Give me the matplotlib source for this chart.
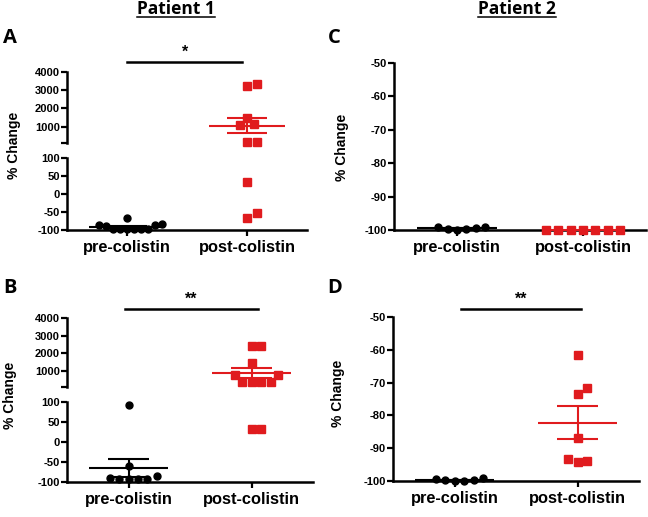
import numpy as np
import matplotlib.pyplot as plt
import matplotlib.transforms as mtransforms
from matplotlib.lines import Line2D

plt.rcParams['font.family'] = ['Liberation Sans', 'DejaVu Sans']
plt.rcParams['font.weight'] = 'bold'
plt.rcParams['axes.unicode_minus'] = False

categories = ['pre-colistin', 'post-colistin']

# Patient 1, panel A
a_pre = [-67, -96, -97, -97, -98, -98, -97, -90, -85, -85, -82]
a_post = [3230, 3350, 1480, 1120, 1100, 160, 160, 33, -67, -53]
a_mean = [-91, 1050]
a_sem = [2.5, 420]

# Patient 1, panel B
b_pre = [-92, -92, -93, -92, -91, -85, -61, 93]
b_post = [1450, 410, 410, 410, 410, 790, 790, 2430, 2430, 33, 33]
b_mean = [-65, 890]
b_sem = [23, 265]

# Patient 2, panel C
c_pre = [-100, -99.7, -99.6, -99.5, -99.2, -99.2]
c_post = [-100, -100, -100, -100, -100, -100, -100]
c_mean = [-99.5, -100]
c_sem = [0.15, 0]

# Patient 2, panel D
d_pre = [-100, -99.9, -99.8, -99.8, -99.3, -99.2]
d_post = [-94.2, -94.0, -93.3, -87.0, -73.4, -71.6, -61.7]
d_mean = [-99.7, -82.2]
d_sem = [0.15, 5.0]

RED = '#e01b1e'
W, H = 648, 517
fig = plt.figure(figsize=(W / 100, H / 100), dpi=100)


def rect(x0, y_top, x1, y_bot):
    return [x0 / W, 1 - y_bot / H, (x1 - x0) / W, (y_bot - y_top) / H]


def style(ax, ylim, yticks, ylabels=None, bottom=True):
    ax.set_xlim(-0.5, 1.5)
    ax.set_ylim(*ylim)
    ax.patch.set_visible(False)
    for s in ['top', 'right']:
        ax.spines[s].set_visible(False)
    ax.spines['left'].set_linewidth(1.8)
    ax.spines['bottom'].set_linewidth(1.8)
    ax.set_yticks(yticks)
    if ylabels is not None:
        ax.set_yticklabels(ylabels)
    ax.tick_params(axis='y', width=1.6, length=4, labelsize=8, pad=1)
    if bottom:
        ax.set_xticks([0, 1])
        ax.set_xticklabels(categories)
        ax.tick_params(axis='x', width=1.6, length=4, labelsize=11.8, pad=3)
    else:
        ax.spines['bottom'].set_visible(False)
        ax.set_xticks([])


def swarm(ax, xc, vals, dist):
    pts = ax.transData.transform(np.column_stack([np.full(len(vals), xc), vals]))
    placed = []
    step = dist / 4
    for px, py in pts:
        k = 0
        found = None
        while found is None:
            offs = [0] if k == 0 else [k * step, -k * step]
            for off in offs:
                if all((px + off - qx) ** 2 + (py - qy) ** 2 >= dist ** 2 for qx, qy in placed):
                    found = off
                    break
            k += 1
        placed.append((px + found, py))
    return ax.transData.inverted().transform(np.array(placed))[:, 0]


def draw_group(ax, xc, vals, marker, color, ms, lo, hi, dist):
    vals = [v for v in vals if lo <= v <= hi]
    if not vals:
        return
    xs = swarm(ax, xc, vals, dist)
    ax.plot(xs, vals, ls='none', marker=marker, color=color, ms=ms,
            mec=color, clip_on=False, zorder=4)


def draw_stats(ax, mean, sem, clip):
    for i, (m, s) in enumerate(zip(mean, sem)):
        c = 'black' if i == 0 else RED
        ax.hlines(m, i - 0.32, i + 0.32, color=c, lw=1.5, clip_on=clip, zorder=3)
        if s > 0:
            ax.hlines([m - s, m + s], i - 0.17, i + 0.17, color=c, lw=1.5, clip_on=clip, zorder=3)
            ax.vlines(i, m - s, m + s, color=c, lw=1.5, clip_on=clip, zorder=3)


def broken_panel(x0, x1, up_top, up_bot, lo_top, lo_bot, pre, post, mean, sem, pre_dist):
    up = fig.add_axes(rect(x0, up_top, x1, up_bot))
    lo = fig.add_axes(rect(x0, lo_top, x1, lo_bot))
    style(up, (100, 4000), [100, 1000, 2000, 3000, 4000],
          ['', '1000', '2000', '3000', '4000'], bottom=False)
    style(lo, (-100, 100), [-100, -50, 0, 50, 100])
    for ax, (a, b) in [(up, (100, 4000)), (lo, (-100, 100))]:
        draw_group(ax, 0, pre, 'o', 'black', 5, a, b, pre_dist)
        draw_group(ax, 1, post, 's', RED, 5.2, a, b, 9.5)
        draw_stats(ax, mean, sem, True)
    return up, lo


def single_panel(x0, x1, top, bot, pre, post, mean, sem):
    ax = fig.add_axes(rect(x0, top, x1, bot))
    style(ax, (-100, -50), [-100, -90, -80, -70, -60, -50])
    draw_group(ax, 0, pre, 'o', 'black', 5, -100, -50, 9.5)
    draw_group(ax, 1, post, 's', RED, 5.2, -100, -50, 9.8)
    draw_stats(ax, mean, sem, False)
    return ax


upA, loA = broken_panel(67, 307, 72, 143, 158, 230, a_pre, a_post, a_mean, a_sem, 7.0)
upB, loB = broken_panel(67, 313, 318, 387, 402, 482, b_pre, b_post, b_mean, b_sem, 9.5)
axC = single_panel(394, 646, 63, 230, c_pre, c_post, c_mean, c_sem)
axD = single_panel(393, 639, 317, 481, d_pre, d_post, d_mean, d_sem)


def sig_bar(ax, xa, xb, y_px, label):
    tr = mtransforms.blended_transform_factory(ax.transData, fig.transFigure)
    fig.add_artist(Line2D([xa, xb], [1 - y_px / H] * 2, transform=tr, color='black', lw=1.8))
    fig.text((xa + xb) / 2, 1 - (y_px - 2) / H, label, transform=tr, ha='center',
             va='bottom', fontsize=11.5)


sig_bar(upA, 0, 0.96, 62, '*')
sig_bar(upB, -0.03, 1.05, 309, '**')
sig_bar(axD, 0.05, 1.03, 309, '**')

# y axis labels
for x, y in [(14, 145), (10, 395), (342, 147), (338, 393)]:
    fig.text(x / W, 1 - y / H, '% Change', rotation=90, ha='center', va='center', fontsize=10)

# panel letters
for x, y, t in [(3, 43, 'A'), (3, 293, 'B'), (328, 43, 'C'), (327, 293, 'D')]:
    fig.text(x / W, 1 - y / H, t, ha='left', va='baseline', fontsize=14.5,
             family=['Open Sans', 'DejaVu Sans'], weight='bold')

# patient titles, underlined
renderer = fig.canvas.get_renderer()
for x, t in [(176, 'Patient 1'), (517, 'Patient 2')]:
    txt = fig.text(x / W, 1 - 14 / H, t, ha='center', va='baseline', fontsize=12.5,
                   family=['Open Sans', 'DejaVu Sans'], weight='bold')
    bb = txt.get_window_extent(renderer)
    fig.add_artist(Line2D([bb.x0 / W, bb.x1 / W], [1 - 16.5 / H] * 2,
                          transform=fig.transFigure, color='black', lw=1.1))

fig.savefig('out.png', dpi=100)
